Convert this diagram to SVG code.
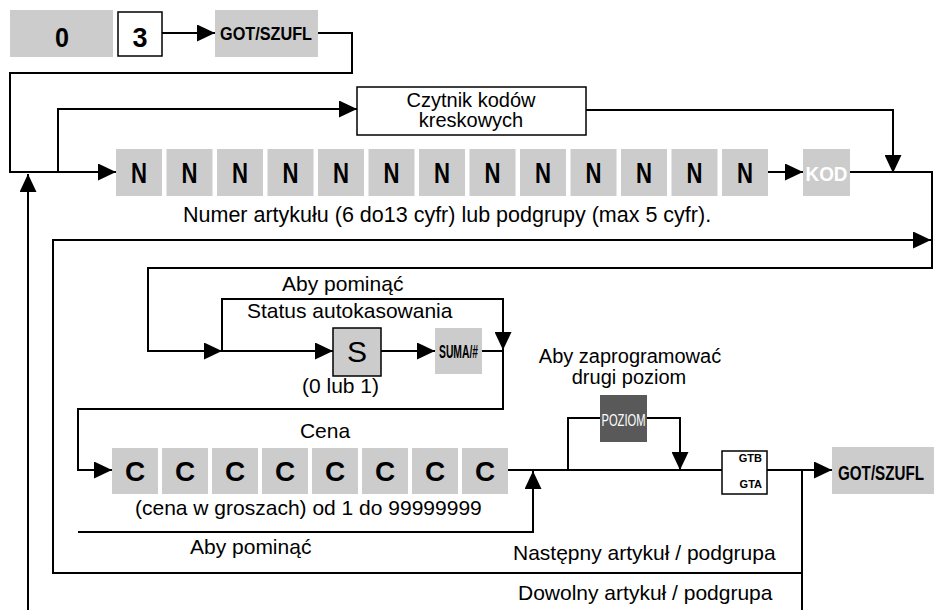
<svg xmlns="http://www.w3.org/2000/svg" width="935" height="610" viewBox="0 0 935 610">
<style>
.bg{fill:#ffffff}
.key{fill:#cccccc}
.wkey{fill:#ffffff;stroke:#000;stroke-width:1.5}
.skey{fill:#cccccc;stroke:#000;stroke-width:1.5}
.dkey{fill:#595959}
.kn{font-family:"Liberation Sans Narrow","Liberation Sans",Arial,sans-serif;font-weight:bold;fill:#000;text-anchor:middle}
.kc{font-family:"Liberation Sans",Arial,sans-serif;font-weight:bold;font-size:28px;fill:#000;text-anchor:middle}
.lbl{font-family:"Liberation Sans",Arial,sans-serif;font-size:21px;fill:#000}
.two{font-size:20px}
.mid{text-anchor:middle}
.con{fill:none;stroke:#000;stroke-width:2}
</style>
<defs>
<marker id="arr" markerUnits="userSpaceOnUse" markerWidth="18" markerHeight="17" refX="18" refY="8.5" orient="auto">
<path d="M0,0 L18,8.5 L0,17 z" fill="#000"/>
</marker>
</defs>
<rect class="bg" x="0" y="0" width="935" height="610"/>

<g id="connectors">
<path class="con" d="M162,33 H215" marker-end="url(#arr)"/>
<path class="con" d="M318,33 H352 V73 H10 V172 H116" marker-end="url(#arr)"/>
<path class="con" d="M58,172 V109 H357" marker-end="url(#arr)"/>
<path class="con" d="M586,110 H893 V173" marker-end="url(#arr)"/>
<path class="con" d="M768,172 H803" marker-end="url(#arr)"/>
<path class="con" d="M850,172 H932 V268 H148 V351 H222" marker-end="url(#arr)"/>
<path class="con" d="M222,351 H333" marker-end="url(#arr)"/>
<path class="con" d="M222,351 V299 H503 V350" marker-end="url(#arr)"/>
<path class="con" d="M381,351 H435" marker-end="url(#arr)"/>
<path class="con" d="M482,351 H503 V409 H78 V470 H112" marker-end="url(#arr)"/>
<path class="con" d="M508,470 H722"/>
<path class="con" d="M78,532 H533 V471" marker-end="url(#arr)"/>
<path class="con" d="M568,470 V418 H600"/>
<path class="con" d="M647,418 H680 V470" marker-end="url(#arr)"/>
<path class="con" d="M767,470 H832" marker-end="url(#arr)"/>
<path class="con" d="M802,470 V573 H53 V240 H931" marker-end="url(#arr)"/>
<path class="con" d="M802,573 V625 H28 V174" marker-end="url(#arr)"/>
</g>

<g id="key-0"><rect class="key" x="10" y="10" width="103" height="47"/><text class="kn" x="62" y="47" font-size="27" textLength="14" lengthAdjust="spacingAndGlyphs">0</text></g>
<g id="key-3"><rect class="wkey" x="118" y="12" width="44" height="44"/><text class="kn" x="140" y="47" font-size="27" textLength="15" lengthAdjust="spacingAndGlyphs">3</text></g>
<g id="key-got1"><rect class="key" x="215" y="10" width="103" height="47"/><text class="kn" x="266" y="40" font-size="19" textLength="92" lengthAdjust="spacingAndGlyphs">GOT/SZUFL</text></g>

<g id="reader"><rect class="wkey" x="357" y="87" width="229" height="48"/><text class="lbl two mid" x="471" y="107">Czytnik kodów</text><text class="lbl two mid" x="471" y="127">kreskowych</text></g>

<g id="n-keys">
<g id="n1"><rect class="key" x="116" y="149" width="46" height="47"/><text class="kn" x="139" y="183" font-size="30" textLength="16" lengthAdjust="spacingAndGlyphs">N</text></g>
<g id="n2"><rect class="key" x="166.5" y="149" width="46" height="47"/><text class="kn" x="189.5" y="183" font-size="30" textLength="16" lengthAdjust="spacingAndGlyphs">N</text></g>
<g id="n3"><rect class="key" x="217" y="149" width="46" height="47"/><text class="kn" x="240" y="183" font-size="30" textLength="16" lengthAdjust="spacingAndGlyphs">N</text></g>
<g id="n4"><rect class="key" x="267.5" y="149" width="46" height="47"/><text class="kn" x="290.5" y="183" font-size="30" textLength="16" lengthAdjust="spacingAndGlyphs">N</text></g>
<g id="n5"><rect class="key" x="318" y="149" width="46" height="47"/><text class="kn" x="341" y="183" font-size="30" textLength="16" lengthAdjust="spacingAndGlyphs">N</text></g>
<g id="n6"><rect class="key" x="368.5" y="149" width="46" height="47"/><text class="kn" x="391.5" y="183" font-size="30" textLength="16" lengthAdjust="spacingAndGlyphs">N</text></g>
<g id="n7"><rect class="key" x="419" y="149" width="46" height="47"/><text class="kn" x="442" y="183" font-size="30" textLength="16" lengthAdjust="spacingAndGlyphs">N</text></g>
<g id="n8"><rect class="key" x="469.5" y="149" width="46" height="47"/><text class="kn" x="492.5" y="183" font-size="30" textLength="16" lengthAdjust="spacingAndGlyphs">N</text></g>
<g id="n9"><rect class="key" x="520" y="149" width="46" height="47"/><text class="kn" x="543" y="183" font-size="30" textLength="16" lengthAdjust="spacingAndGlyphs">N</text></g>
<g id="n10"><rect class="key" x="570.5" y="149" width="46" height="47"/><text class="kn" x="593.5" y="183" font-size="30" textLength="16" lengthAdjust="spacingAndGlyphs">N</text></g>
<g id="n11"><rect class="key" x="621" y="149" width="46" height="47"/><text class="kn" x="644" y="183" font-size="30" textLength="16" lengthAdjust="spacingAndGlyphs">N</text></g>
<g id="n12"><rect class="key" x="671.5" y="149" width="46" height="47"/><text class="kn" x="694.5" y="183" font-size="30" textLength="16" lengthAdjust="spacingAndGlyphs">N</text></g>
<g id="n13"><rect class="key" x="722" y="149" width="46" height="47"/><text class="kn" x="745" y="183" font-size="30" textLength="16" lengthAdjust="spacingAndGlyphs">N</text></g>
</g>
<g id="key-kod"><rect class="key" x="803" y="149" width="47" height="47"/><text class="kn" x="826.5" y="181" font-size="20" textLength="42" lengthAdjust="spacingAndGlyphs" style="fill:#ffffff">KOD</text></g>
<text class="lbl" x="183" y="222" style="font-size:21.5px">Numer artykułu (6 do13 cyfr) lub podgrupy (max 5 cyfr).</text>

<g id="status-labels">
<text class="lbl" x="282" y="291">Aby pominąć</text>
<text class="lbl" x="247" y="318">Status autokasowania</text>
<text class="lbl" x="302" y="393">(0 lub 1)</text>
</g>
<g id="key-s"><rect class="skey" x="333" y="328" width="48" height="48"/><text class="lbl mid" x="357" y="362" style="font-size:30px">S</text></g>
<g id="key-suma"><rect class="key" x="435" y="328" width="47" height="46"/><text class="kn" x="458.5" y="358" font-size="19" textLength="39" lengthAdjust="spacingAndGlyphs">SUMA/#</text></g>

<g id="price-labels">
<text class="lbl mid" x="325" y="438">Cena</text>
<text class="lbl" x="135" y="515">(cena w groszach) od 1 do 99999999</text>
<text class="lbl" x="190" y="554">Aby pominąć</text>
</g>
<g id="c-keys">
<g id="c1"><rect class="key" x="112" y="448" width="46" height="46"/><text class="kc" x="135" y="481">C</text></g>
<g id="c2"><rect class="key" x="162" y="448" width="46" height="46"/><text class="kc" x="185" y="481">C</text></g>
<g id="c3"><rect class="key" x="212" y="448" width="46" height="46"/><text class="kc" x="235" y="481">C</text></g>
<g id="c4"><rect class="key" x="262" y="448" width="46" height="46"/><text class="kc" x="285" y="481">C</text></g>
<g id="c5"><rect class="key" x="312" y="448" width="46" height="46"/><text class="kc" x="335" y="481">C</text></g>
<g id="c6"><rect class="key" x="362" y="448" width="46" height="46"/><text class="kc" x="385" y="481">C</text></g>
<g id="c7"><rect class="key" x="412" y="448" width="46" height="46"/><text class="kc" x="435" y="481">C</text></g>
<g id="c8"><rect class="key" x="462" y="448" width="46" height="46"/><text class="kc" x="485" y="481">C</text></g>
</g>

<g id="level-labels">
<text class="lbl two mid" x="630" y="363">Aby zaprogramować</text>
<text class="lbl two mid" x="629" y="384">drugi poziom</text>
</g>
<g id="key-poziom"><rect class="dkey" x="600" y="395" width="47" height="47"/><text class="kn" x="623.5" y="426" font-size="17" style="font-weight:normal;fill:#ffffff" textLength="44" lengthAdjust="spacingAndGlyphs">POZIOM</text></g>
<g id="key-gtb"><rect class="wkey" x="722" y="451" width="45" height="43"/><text class="kn" x="762" y="462" font-size="11" style="text-anchor:end;font-family:'Liberation Sans',Arial,sans-serif">GTB</text><text class="kn" x="762" y="488" font-size="11" style="text-anchor:end;font-family:'Liberation Sans',Arial,sans-serif">GTA</text></g>
<g id="key-got2"><rect class="key" x="832" y="447" width="102" height="47"/><text class="kn" x="881" y="480" font-size="20" textLength="86" lengthAdjust="spacingAndGlyphs">GOT/SZUFL</text></g>

<g id="loop-labels">
<text class="lbl" x="513" y="560">Następny artykuł / podgrupa</text>
<text class="lbl" x="518" y="600">Dowolny artykuł / podgrupa</text>
</g>
</svg>
